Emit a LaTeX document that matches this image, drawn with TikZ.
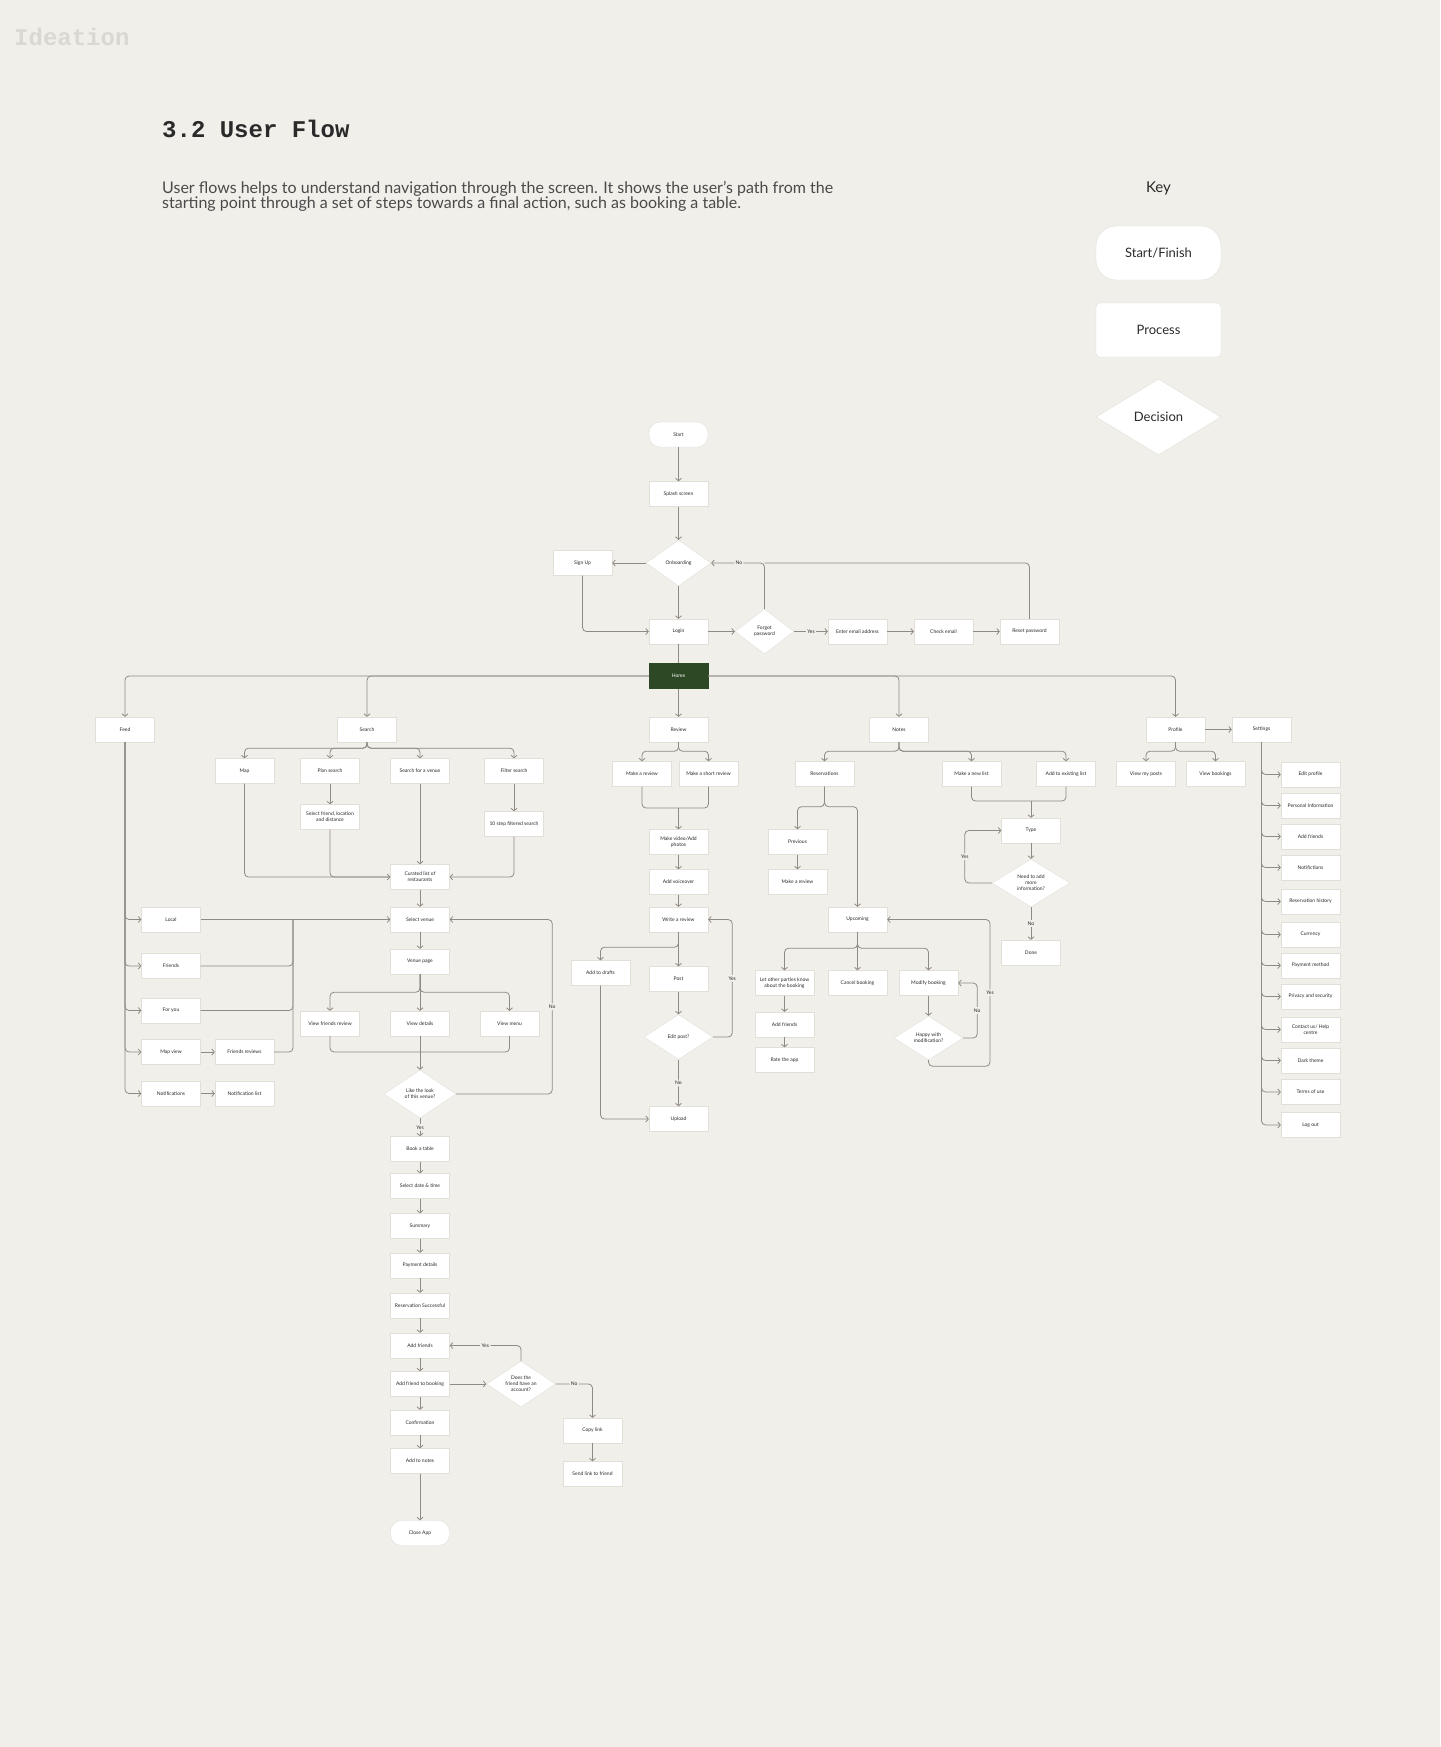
\documentclass[tikz,border=0pt]{standalone}
\usepackage{fontspec}
\setmainfont{Lato}
\newfontfamily\headmono{Liberation Mono}
\usetikzlibrary{arrows.meta,shapes.geometric}

\definecolor{paper}{HTML}{F1EFEA}
\definecolor{boxline}{HTML}{E2DFD9}
\definecolor{wire}{HTML}{8E8A84}
\definecolor{homegreen}{HTML}{2C4824}
\definecolor{faint}{HTML}{DAD8D3}
\definecolor{ink}{HTML}{2A2A2A}

\newcommand{\tinytxt}{\fontsize{5}{6}\selectfont}

\begin{document}
\begin{tikzpicture}[x=1pt, y=-1pt,
  proc/.style={rectangle, fill=white, draw=boxline, line width=0.4pt, align=center, minimum width=59, minimum height=25, inner sep=1, font=\tinytxt, text=ink},
  term/.style={proc, rounded corners=11},
  dec/.style={diamond, fill=white, draw=boxline, line width=0.4pt, aspect=1.5, align=center, inner sep=0, font=\tinytxt, text=ink},
  ln/.style={draw=wire, line width=0.8pt, rounded corners=4},
  arr/.style={ln, -{Straight Barb[length=2.5pt,width=6pt]}},
  lbl/.style={fill=paper, inner sep=1.5, font=\tinytxt, text=ink},
  keybox/.style={fill=white, draw=boxline, minimum width=125, minimum height=54, font=\fontsize{13}{15}\selectfont, text=ink}
]
\fill[paper] (0,0) rectangle (1440,1747);
\useasboundingbox (0,0) rectangle (1440,1747);

% header
\node[anchor=base west, inner sep=0, font=\headmono\bfseries\fontsize{24}{24}\selectfont, text=faint] (ideation) at (14,46) {Ideation};
\node[anchor=base west, inner sep=0, font=\headmono\bfseries\fontsize{24}{24}\selectfont, text=ink] (title) at (162,138) {3.2 User Flow};
\node[anchor=north west, inner sep=0, align=left, font=\fontsize{16}{15.5}\selectfont, text=ink!85] (intro) at (162,181)
  {User flows helps to understand navigation through the screen. It shows the user’s path from the\\starting point through a set of steps towards a final action, such as booking a table.};

% key
\node[font=\fontsize{15}{17}\selectfont, text=ink] (keyhead) at (1158.5,188) {Key};
\node[keybox, rounded corners=20] (keyterm) at (1158.5,253) {Start/Finish};
\node[keybox, rounded corners=4] (keyproc) at (1158.5,330) {Process};
\node[dec, minimum width=125, minimum height=76, font=\fontsize{13}{15}\selectfont] (keydec) at (1158.5,417) {Decision};

% entry
\node[term] (start) at (678.5,434.5) {Start};
\node[proc] (splash) at (678.5,494) {Splash screen};
\node[dec, minimum width=65, minimum height=46] (onb) at (678.5,563) {Onboarding};
\node[proc] (signup) at (582.5,563) {Sign Up};
\node[proc] (login) at (678.5,631.5) {Login};
\node[dec, minimum width=59, minimum height=45] (forgot) at (764.5,631.5) {Forgot\\password};
\node[proc] (email) at (857.5,631.5) {Enter email address};
\node[proc] (check) at (943.5,631.5) {Check email};
\node[proc] (reset) at (1029.5,631.5) {Reset password};
\node[proc, fill=homegreen, draw=homegreen, text=white] (home) at (678.5,676) {Home};

% main sections
\node[proc] (feed) at (125,729.5) {Feed};
\node[proc] (search) at (367,729.5) {Search};
\node[proc] (review) at (678.5,729.5) {Review};
\node[proc] (notes) at (899,729.5) {Notes};
\node[proc] (profile) at (1175.5,729.5) {Profile};
\node[proc] (settings) at (1261.5,729.5) {Settings};

% search
\node[proc] (map) at (244.5,771) {Map};
\node[proc] (plans) at (330,771) {Plan search};
\node[proc] (sven) at (420,771) {Search for a venue};
\node[proc] (filt) at (514,771) {Filter search};
\node[proc] (sfriend) at (330,817) {Select friend, location\\and distance};
\node[proc] (tenstep) at (514,824) {10 step filtered search};
\node[proc] (curated) at (420,877) {Curated list of\\restaurants};
\node[proc] (selven) at (420,919.5) {Select venue};
\node[proc] (vpage) at (420,961.5) {Venue page};
\node[proc] (vfr) at (330,1023.5) {View friends review};
\node[proc] (vdet) at (420,1023.5) {View details};
\node[proc] (vmenu) at (509.5,1023.5) {View menu};
\node[dec, minimum width=72, minimum height=48] (like) at (420,1094) {Like the look\\of this venue?};

% booking
\node[proc] (book) at (420,1149) {Book a table};
\node[proc] (seldt) at (420,1186) {Select date \& time};
\node[proc] (summ) at (420,1226) {Summary};
\node[proc] (paydet) at (420,1265.5) {Payment details};
\node[proc] (resok) at (420,1305.5) {Reservation Successful};
\node[proc] (addfr) at (420,1345.5) {Add friends};
\node[proc] (addfb) at (420,1384) {Add friend to booking};
\node[proc] (confirm) at (420,1422.5) {Confirmation};
\node[proc] (addnotes) at (420,1461) {Add to notes};
\node[term] (closeapp) at (420,1533) {Close App};
\node[dec, minimum width=69, minimum height=46] (acct) at (521,1384) {Does the\\friend have an\\account?};
\node[proc] (copy) at (592.5,1430.5) {Copy link};
\node[proc] (sendlink) at (592.5,1474) {Send link to friend};

% feed
\node[proc] (local) at (171,919.5) {Local};
\node[proc] (friends) at (171,966) {Friends};
\node[proc] (foryou) at (171,1010.5) {For you};
\node[proc] (mapview) at (171,1052) {Map view};
\node[proc] (notif) at (171,1093.5) {Notifications};
\node[proc] (frrev) at (244.5,1052) {Friends reviews};
\node[proc] (notlist) at (244.5,1093.5) {Notification list};

% review
\node[proc] (mkrev) at (642,774) {Make a review};
\node[proc] (mkshort) at (708.5,774) {Make a short review};
\node[proc] (mkvid) at (678.5,842) {Make video/Add\\photos};
\node[proc] (voice) at (678.5,882) {Add voiceover};
\node[proc] (write) at (678.5,919.5) {Write a review};
\node[proc] (drafts) at (600.5,973) {Add to drafts};
\node[proc] (post) at (678.5,979) {Post};
\node[dec, minimum width=69, minimum height=45] (edit) at (678.5,1037) {Edit post?};
\node[proc] (upload) at (678.5,1119) {Upload};

% notes
\node[proc] (resv) at (824.5,774) {Reservations};
\node[proc] (newlist) at (971.5,774) {Make a new list};
\node[proc] (addexist) at (1066,774) {Add to existing list};
\node[proc] (ntype) at (1031,830.5) {Type};
\node[dec, minimum width=78, minimum height=48] (needmore) at (1031,883) {Need to add\\more\\information?};
\node[proc] (done) at (1031,952.5) {Done};
\node[proc] (prev) at (797.5,842) {Previous};
\node[proc] (mkrev2) at (797.5,882) {Make a review};
\node[proc] (upc) at (857.5,919.5) {Upcoming};
\node[proc] (letp) at (784.5,983) {Let other parties know\\about the booking};
\node[proc] (cancel) at (857.5,983) {Cancel booking};
\node[proc] (modify) at (928.5,983) {Modify booking};
\node[dec, minimum width=69, minimum height=44] (happy) at (928.5,1038) {Happy with\\modification?};
\node[proc] (addfr2) at (784.5,1024.5) {Add friends};
\node[proc] (rate) at (784.5,1060) {Rate the app};

% profile and settings
\node[proc] (vposts) at (1146,774) {View my posts};
\node[proc] (vbook) at (1215.5,774) {View bookings};
\node[proc] (edprof) at (1310.5,774.5) {Edit profile};
\node[proc] (persinfo) at (1310.5,805.5) {Personal Information};
\node[proc] (addfr3) at (1310.5,836.5) {Add friends};
\node[proc] (notifs) at (1310.5,867.5) {Notifictions};
\node[proc] (reshist) at (1310.5,901.5) {Reservation history};
\node[proc] (currency) at (1310.5,934.5) {Currency};
\node[proc] (paymeth) at (1310.5,965.5) {Payment method};
\node[proc] (privacy) at (1310.5,996.5) {Privacy and security};
\node[proc] (contact) at (1310.5,1029.5) {Contact us/ Help\\centre};
\node[proc] (dark) at (1310.5,1060.5) {Dark theme};
\node[proc] (terms) at (1310.5,1092) {Terms of use};
\node[proc] (logout) at (1310.5,1125) {Log out};

% connectors: entry
\draw[arr] (start) -- (splash);
\draw[arr] (splash) -- (onb);
\draw[arr] (onb) -- (signup);
\draw[arr] (onb) -- (login);
\draw[arr] (signup.south) |- (login.west);
\draw[arr] (login) -- (forgot);
\draw[arr] (forgot) -- node[lbl]{Yes} (email);
\draw[arr] (email) -- (check);
\draw[arr] (check) -- (reset);
\draw[ln] (reset.north) |- (forgot.north |- onb.east);
\draw[arr] (forgot.north) |- node[lbl,pos=0.74]{No} (onb.east);
\draw[ln] (login) -- (home);

% home bus
\foreach \dst in {feed,search} \draw[arr] (home.west) -| (\dst.north);
\foreach \dst in {notes,profile} \draw[arr] (home.east) -| (\dst.north);
\draw[arr] (home) -- (review);

% search
\foreach \dst in {map,plans,sven,filt} \draw[arr] (search.south) -- ++(0,6) -| (\dst.north);
\draw[arr] (plans) -- (sfriend);
\draw[arr] (filt) -- (tenstep);
\draw[arr] (map.south) |- (curated.west);
\draw[ln] (sfriend.south) |- (curated.west);
\draw[arr] (sven) -- (curated);
\draw[arr] (tenstep.south) |- (curated.east);
\draw[arr] (curated) -- (selven);
\draw[arr] (selven) -- (vpage);
\foreach \dst in {vfr,vmenu} \draw[arr] (vpage.south) -- ++(0,18) -| (\dst.north);
\draw[arr] (vpage) -- (vdet);
\coordinate (vjoin) at (420,1052);
\foreach \src in {vfr,vmenu} \draw[ln] (\src.south) |- (vjoin);
\draw[arr] (vdet) -- (like);
\draw[arr] (like.east) -- ++(96,0) |- node[lbl,pos=0.25]{No} (selven.east);
\draw[arr] (like) -- node[lbl]{Yes} (book);

% booking
\foreach \a/\b in {book/seldt,seldt/summ,summ/paydet,paydet/resok,resok/addfr,addfr/addfb,addfb/confirm,confirm/addnotes,addnotes/closeapp}
  \draw[arr] (\a) -- (\b);
\draw[arr] (addfb) -- (acct);
\draw[arr] (acct.north) |- node[lbl,pos=0.75]{Yes} (addfr.east);
\draw[arr] (acct.east) -| node[lbl,pos=0.25]{No} (copy.north);
\draw[arr] (copy) -- (sendlink);

% feed
\foreach \dst in {local,friends,foryou,mapview,notif} \draw[arr] (feed.south) |- (\dst.west);
\draw[arr] (mapview) -- (frrev);
\draw[arr] (notif) -- (notlist);
\draw[arr] (local) -- (selven);
\coordinate (fjoin) at (293,919.5);
\foreach \src in {friends,foryou,frrev} \draw[ln] (\src.east) -| (fjoin);

% review
\foreach \dst in {mkrev,mkshort} \draw[arr] (review.south) -- ++(0,9) -| (\dst.north);
\coordinate (rjoin) at (678.5,808);
\foreach \src in {mkrev,mkshort} \draw[ln] (\src.south) |- (rjoin);
\draw[arr] (rjoin) -- (mkvid.north);
\draw[arr] (mkvid) -- (voice);
\draw[arr] (voice) -- (write);
\draw[arr] (write) -- (post);
\draw[arr] (write.south) -- ++(0,15) -| (drafts.north);
\draw[arr] (drafts.south) |- (upload.west);
\draw[arr] (post) -- (edit);
\draw[arr] (edit) -- node[lbl]{No} (upload);
\draw[arr] (edit.east) -- ++(19,0) |- node[lbl,pos=0.25]{Yes} (write.east);

% notes
\foreach \dst in {resv,newlist,addexist} \draw[arr] (notes.south) -- ++(0,9) -| (\dst.north);
\coordinate (njoin) at (1031,801);
\foreach \src in {newlist,addexist} \draw[ln] (\src.south) |- (njoin);
\draw[arr] (njoin) -- (ntype.north);
\draw[arr] (ntype) -- (needmore);
\draw[arr] (needmore) -- node[lbl]{No} (done);
\draw[arr] (needmore.west) -- ++(-27,0) |- node[lbl,pos=0.25]{Yes} (ntype.west);
\foreach \dst in {prev,upc} \draw[arr] (resv.south) -- ++(0,20) -| (\dst.north);
\draw[arr] (prev) -- (mkrev2);
\foreach \dst in {letp,modify} \draw[arr] (upc.south) -- ++(0,16) -| (\dst.north);
\draw[arr] (upc) -- (cancel);
\draw[arr] (letp) -- (addfr2);
\draw[arr] (addfr2) -- (rate);
\draw[arr] (modify) -- (happy);
\draw[arr] (happy.east) -- ++(14,0) |- node[lbl,pos=0.25]{No} (modify.east);
\draw[arr] (happy.south) -- ++(0,6) -- ++(61.5,0) |- node[lbl,pos=0.25]{Yes} (upc.east);

% profile
\draw[arr] (profile) -- (settings);
\foreach \dst in {vposts,vbook} \draw[arr] (profile.south) -- ++(0,9) -| (\dst.north);
\foreach \dst in {edprof,persinfo,addfr3,notifs,reshist,currency,paymeth,privacy,contact,dark,terms,logout}
  \draw[arr] (settings.south) |- (\dst.west);
\end{tikzpicture}
\end{document}
